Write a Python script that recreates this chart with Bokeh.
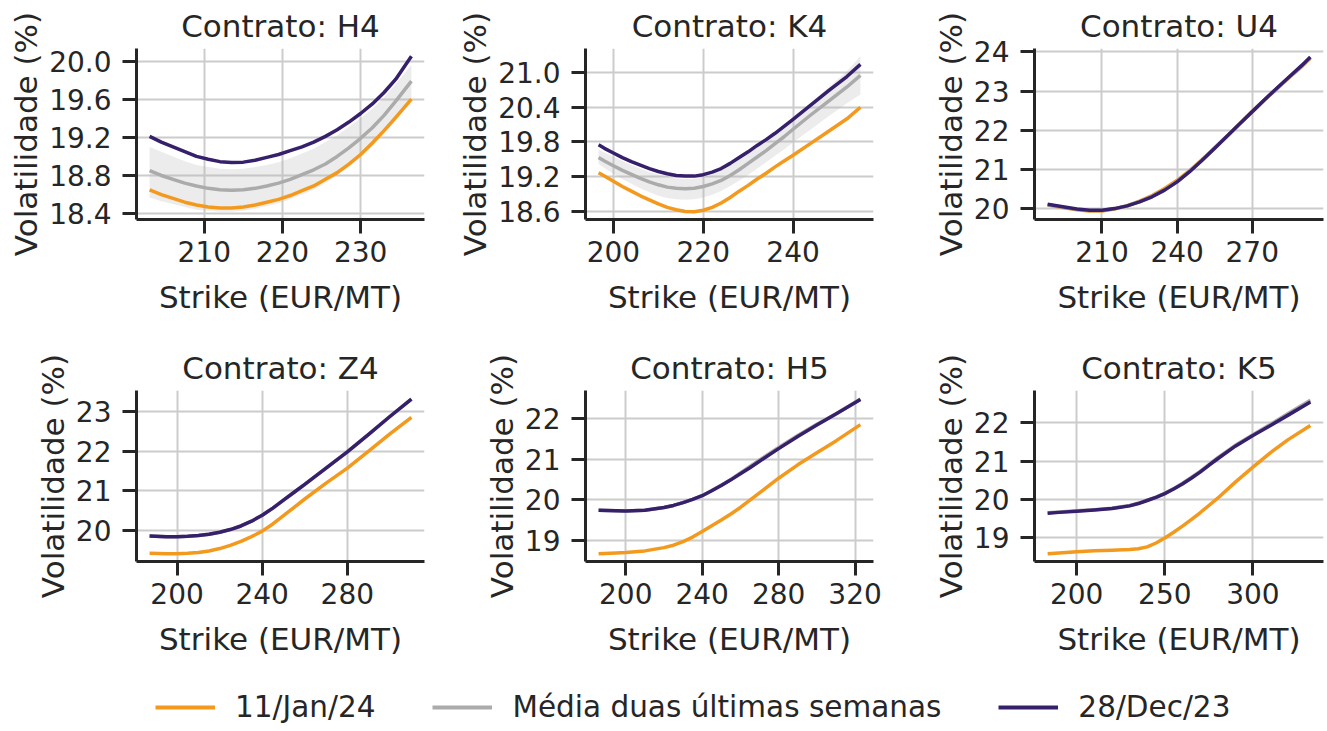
import numpy as np
from bokeh.plotting import figure
from bokeh.layouts import column, row
from bokeh.models import Range1d, FixedTicker, PrintfTickFormatter, Legend, LegendItem
from bokeh.embed import file_html
from bokeh.resources import INLINE

FONT = "DejaVu Sans"
TXT = "#262626"
C_JAN = "#F39A1E"
C_AVG = "#ABABAB"
C_DEC = "#37206B"
C_BAND = "#B4B4B4"

series_labels = ["11/Jan/24", "Média duas últimas semanas", "28/Dec/23"]
x_label = "Strike (EUR/MT)"
y_label = "Volatilidade (%)"

# ---------------- H4 ----------------
h4_strike = [203, 204.5, 206, 207.5, 209, 210.5, 212, 213.5, 215, 216.5, 218, 219.5, 221, 222.5, 224, 225.5,
             227, 228.5, 230, 231.5, 233, 234.5, 236.5]
h4_jan = [18.65, 18.60, 18.56, 18.52, 18.49, 18.47, 18.46, 18.46, 18.47, 18.49, 18.52, 18.55, 18.59, 18.64,
          18.69, 18.76, 18.83, 18.92, 19.02, 19.14, 19.27, 19.41, 19.60]
h4_avg = [18.85, 18.80, 18.76, 18.72, 18.69, 18.665, 18.65, 18.645, 18.65, 18.665, 18.69, 18.72, 18.76, 18.81,
          18.86, 18.92, 19.00, 19.09, 19.19, 19.30, 19.43, 19.58, 19.79]
h4_dec = [19.21, 19.15, 19.10, 19.05, 19.00, 18.97, 18.945, 18.935, 18.94, 18.96, 18.99, 19.02, 19.06, 19.10,
          19.15, 19.21, 19.28, 19.36, 19.45, 19.55, 19.67, 19.81, 20.05]
h4_lo = [18.57, 18.53, 18.50, 18.47, 18.44, 18.43, 18.42, 18.42, 18.43, 18.45, 18.48, 18.51, 18.55, 18.60,
         18.65, 18.72, 18.80, 18.89, 18.99, 19.11, 19.24, 19.38, 19.58]
h4_hi = [19.10, 19.05, 19.00, 18.95, 18.91, 18.89, 18.87, 18.865, 18.87, 18.89, 18.91, 18.94, 18.98, 19.03,
         19.08, 19.15, 19.22, 19.31, 19.40, 19.50, 19.62, 19.76, 19.96]
h4_xticks = [210, 220, 230]
h4_yticks = [18.4, 18.8, 19.2, 19.6, 20.0]

# ---------------- K4 ----------------
k4_strike = [196.7, 198, 200, 202, 204, 206, 208, 210, 212, 214, 216, 218, 220, 222, 224, 226, 228, 230,
             232, 234, 236, 238, 240, 244, 248, 252, 255]
k4_jan = [19.27, 19.21, 19.12, 19.03, 18.95, 18.87, 18.80, 18.73, 18.67, 18.63, 18.60, 18.595, 18.62, 18.67,
          18.745, 18.84, 18.95, 19.05, 19.16, 19.26, 19.37, 19.47, 19.57, 19.78, 19.99, 20.20, 20.40]
k4_avg = [19.53, 19.47, 19.39, 19.31, 19.24, 19.17, 19.11, 19.06, 19.02, 19.00, 18.99, 19.00, 19.03, 19.075,
          19.135, 19.22, 19.32, 19.43, 19.54, 19.65, 19.77, 19.89, 20.02, 20.27, 20.51, 20.75, 20.95]
k4_dec = [19.75, 19.69, 19.61, 19.53, 19.46, 19.40, 19.34, 19.29, 19.25, 19.22, 19.21, 19.21, 19.235, 19.28,
          19.34, 19.43, 19.53, 19.63, 19.74, 19.84, 19.95, 20.07, 20.19, 20.44, 20.69, 20.93, 21.14]
k4_lo = [19.42, 19.35, 19.25, 19.16, 19.08, 19.00, 18.93, 18.87, 18.83, 18.81, 18.80, 18.81, 18.84, 18.89,
         18.955, 19.04, 19.13, 19.23, 19.34, 19.45, 19.56, 19.67, 19.79, 20.02, 20.25, 20.47, 20.62]
k4_hi = [19.67, 19.62, 19.55, 19.47, 19.40, 19.34, 19.28, 19.24, 19.20, 19.17, 19.16, 19.165, 19.19, 19.24,
         19.30, 19.40, 19.50, 19.61, 19.72, 19.84, 19.96, 20.09, 20.22, 20.48, 20.75, 21.02, 21.28]
k4_xticks = [200, 220, 240]
k4_yticks = [18.6, 19.2, 19.8, 20.4, 21.0]

# ---------------- U4 ----------------
u4_strike = [188.3, 195, 200, 205, 210, 215, 220, 225, 230, 235, 240, 245, 250, 255, 260, 265, 270, 275, 280,
             285, 290, 293.2]
u4_jan = [20.10, 20.03, 19.98, 19.95, 19.95, 20.00, 20.08, 20.20, 20.34, 20.52, 20.73, 20.98, 21.26, 21.56,
          21.86, 22.17, 22.48, 22.78, 23.07, 23.36, 23.64, 23.84]
u4_avg = [20.11, 20.04, 19.99, 19.96, 19.96, 20.01, 20.08, 20.19, 20.32, 20.49, 20.70, 20.96, 21.25, 21.55,
          21.86, 22.17, 22.48, 22.79, 23.08, 23.37, 23.66, 23.86]
u4_dec = [20.12, 20.05, 20.00, 19.97, 19.97, 20.01, 20.08, 20.18, 20.31, 20.48, 20.69, 20.95, 21.24, 21.55,
          21.86, 22.17, 22.48, 22.79, 23.09, 23.38, 23.67, 23.87]
u4_lo = [20.08, 20.01, 19.96, 19.93, 19.93, 19.98, 20.05, 20.16, 20.29, 20.46, 20.67, 20.93, 21.22, 21.52,
         21.83, 22.14, 22.45, 22.76, 23.05, 23.34, 23.63, 23.83]
u4_hi = [20.14, 20.07, 20.02, 19.99, 19.99, 20.04, 20.11, 20.22, 20.35, 20.52, 20.73, 20.99, 21.28, 21.58,
         21.89, 22.20, 22.51, 22.82, 23.11, 23.40, 23.69, 23.89]
u4_xticks = [210, 240, 270]
u4_yticks = [20, 21, 22, 23, 24]

# ---------------- Z4 ----------------
z4_strike = [187.1, 195, 200, 205, 210, 215, 220, 225, 230, 235, 240, 245, 250, 255, 260, 270, 280, 290, 300,
             310.1]
z4_jan = [19.42, 19.41, 19.41, 19.42, 19.44, 19.48, 19.54, 19.62, 19.72, 19.84, 19.98, 20.16, 20.37, 20.58,
          20.79, 21.19, 21.57, 22.00, 22.43, 22.85]
z4_avg = [19.86, 19.84, 19.84, 19.85, 19.87, 19.90, 19.95, 20.02, 20.11, 20.23, 20.38, 20.56, 20.76, 20.96,
          21.16, 21.57, 21.98, 22.42, 22.87, 23.31]
z4_dec = [19.86, 19.84, 19.84, 19.85, 19.87, 19.90, 19.95, 20.02, 20.11, 20.23, 20.38, 20.56, 20.76, 20.96,
          21.16, 21.57, 21.98, 22.42, 22.87, 23.31]
z4_lo = [19.84, 19.82, 19.82, 19.83, 19.85, 19.88, 19.93, 20.00, 20.09, 20.21, 20.36, 20.54, 20.74, 20.94,
         21.14, 21.55, 21.96, 22.40, 22.85, 23.29]
z4_hi = [19.88, 19.86, 19.86, 19.87, 19.89, 19.92, 19.97, 20.04, 20.13, 20.25, 20.40, 20.58, 20.78, 20.98,
         21.18, 21.59, 22.00, 22.44, 22.89, 23.33]
z4_xticks = [200, 240, 280]
z4_yticks = [20, 21, 22, 23]

# ---------------- H5 ----------------
h5_strike = [185.8, 195, 200, 210, 220, 225, 230, 235, 240, 245, 250, 255, 260, 265, 270, 280, 290, 300, 310,
             322.8]
h5_jan = [18.67, 18.69, 18.70, 18.74, 18.82, 18.88, 18.97, 19.08, 19.22, 19.36, 19.50, 19.65, 19.81, 19.99,
          20.17, 20.53, 20.86, 21.16, 21.45, 21.85]
h5_avg = [19.74, 19.73, 19.72, 19.74, 19.81, 19.86, 19.93, 20.01, 20.10, 20.23, 20.36, 20.50, 20.66, 20.82,
          20.98, 21.29, 21.58, 21.86, 22.12, 22.48]
h5_dec = [19.74, 19.73, 19.72, 19.74, 19.81, 19.86, 19.93, 20.01, 20.10, 20.22, 20.35, 20.49, 20.64, 20.79,
          20.95, 21.26, 21.56, 21.84, 22.11, 22.47]
h5_lo = [19.73, 19.72, 19.71, 19.73, 19.80, 19.85, 19.92, 20.00, 20.09, 20.21, 20.34, 20.48, 20.63, 20.78,
         20.94, 21.25, 21.55, 21.83, 22.10, 22.45]
h5_hi = [19.75, 19.74, 19.73, 19.75, 19.82, 19.87, 19.94, 20.02, 20.11, 20.25, 20.38, 20.53, 20.68, 20.85,
         21.01, 21.32, 21.60, 21.88, 22.14, 22.50]
h5_xticks = [200, 240, 280, 320]
h5_yticks = [19, 20, 21, 22]

# ---------------- K5 ----------------
k5_strike = [183.5, 190, 200, 210, 220, 230, 235, 240, 245, 250, 255, 260, 265, 270, 275, 280, 290, 300, 310,
             320, 332.6]
k5_jan = [18.58, 18.60, 18.63, 18.66, 18.67, 18.69, 18.71, 18.76, 18.86, 18.99, 19.14, 19.30, 19.47, 19.65,
          19.84, 20.03, 20.45, 20.84, 21.22, 21.56, 21.93]
k5_avg = [19.65, 19.67, 19.70, 19.73, 19.77, 19.84, 19.90, 19.98, 20.06, 20.16, 20.28, 20.42, 20.57, 20.73,
          20.91, 21.09, 21.41, 21.69, 21.96, 22.24, 22.59]
k5_dec = [19.64, 19.66, 19.69, 19.72, 19.76, 19.83, 19.89, 19.97, 20.05, 20.15, 20.27, 20.40, 20.55, 20.71,
          20.89, 21.06, 21.39, 21.67, 21.93, 22.20, 22.54]
k5_lo = [19.63, 19.65, 19.68, 19.71, 19.75, 19.82, 19.88, 19.96, 20.04, 20.14, 20.26, 20.39, 20.54, 20.70,
         20.88, 21.05, 21.38, 21.66, 21.92, 22.19, 22.52]
k5_hi = [19.66, 19.68, 19.71, 19.74, 19.78, 19.85, 19.91, 19.99, 20.07, 20.17, 20.30, 20.44, 20.60, 20.77,
         20.95, 21.12, 21.44, 21.72, 22.00, 22.29, 22.64]
k5_xticks = [200, 250, 300]
k5_yticks = [19, 20, 21, 22]


def style_axis(ax, label_standoff, axis_label_standoff):
    ax.axis_line_color = TXT
    ax.axis_line_width = 3
    ax.major_tick_line_color = TXT
    ax.major_tick_line_width = 3
    ax.major_tick_out = 14
    ax.major_tick_in = 0
    ax.minor_tick_line_color = None
    ax.major_label_text_font = FONT
    ax.major_label_text_font_size = "28px"
    ax.major_label_text_color = TXT
    ax.major_label_standoff = label_standoff
    ax.axis_label_text_font = FONT
    ax.axis_label_text_font_size = "31px"
    ax.axis_label_text_font_style = "normal"
    ax.axis_label_text_color = TXT
    ax.axis_label_standoff = axis_label_standoff


def panel(name, xs, jan, avg, dec, lo, hi, xticks, yticks, yfmt,
          width, height, bl, br, bt, bb):
    xs = np.array(xs, dtype=float)
    allv = np.concatenate([jan, avg, dec, lo, hi])
    xpad = (xs.max() - xs.min()) * 0.05
    ypad = (allv.max() - allv.min()) * 0.05
    p = figure(width=width, height=height,
               min_border_left=bl, min_border_right=br,
               min_border_top=bt, min_border_bottom=bb,
               x_range=Range1d(xs.min() - xpad, xs.max() + xpad),
               y_range=Range1d(allv.min() - ypad, allv.max() + ypad),
               output_backend="svg", toolbar_location=None,
               title="Contrato: " + name)
    p.title.text_font = FONT
    p.title.text_font_size = "31px"
    p.title.text_font_style = "normal"
    p.title.text_color = TXT
    p.title.align = "center"
    p.title.standoff = 9
    p.outline_line_color = None
    p.background_fill_color = "white"
    p.border_fill_color = "white"
    p.grid.grid_line_color = "#CCCCCC"
    p.grid.grid_line_width = 2
    p.xaxis.ticker = FixedTicker(ticks=xticks)
    p.yaxis.ticker = FixedTicker(ticks=yticks)
    p.yaxis.formatter = PrintfTickFormatter(format=yfmt)
    p.xaxis.axis_label = x_label
    p.yaxis.axis_label = y_label
    style_axis(p.xaxis[0], 7, 14)
    style_axis(p.yaxis[0], 11, 2)

    p.varea(x=xs, y1=lo, y2=hi, fill_color=C_BAND, fill_alpha=0.25)
    p.line(xs, jan, line_color=C_JAN, line_width=3.5, line_join="round")
    p.line(xs, avg, line_color=C_AVG, line_width=3.5, line_join="round")
    p.line(xs, dec, line_color=C_DEC, line_width=3.5, line_join="round")
    return p


H1, H2, HL = 330, 338, 62
p1 = panel("H4", h4_strike, h4_jan, h4_avg, h4_dec, h4_lo, h4_hi, h4_xticks, h4_yticks, "%.1f",
           440, H1, 136, 16, 48, 111)
p2 = panel("K4", k4_strike, k4_jan, k4_avg, k4_dec, k4_lo, k4_hi, k4_xticks, k4_yticks, "%.1f",
           450, H1, 145, 17, 48, 111)
p3 = panel("U4", u4_strike, u4_jan, u4_avg, u4_dec, u4_lo, u4_hi, u4_xticks, u4_yticks, "%d",
           437, H1, 144, 4, 48, 111)
p4 = panel("Z4", z4_strike, z4_jan, z4_avg, z4_dec, z4_lo, z4_hi, z4_xticks, z4_yticks, "%d",
           440, H2, 136, 16, 60, 107)
p5 = panel("H5", h5_strike, h5_jan, h5_avg, h5_dec, h5_lo, h5_hi, h5_xticks, h5_yticks, "%d",
           450, H2, 145, 17, 60, 107)
p6 = panel("K5", k5_strike, k5_jan, k5_avg, k5_dec, k5_lo, k5_hi, k5_xticks, k5_yticks, "%d",
           437, H2, 144, 4, 60, 107)

# legend strip (renderers hold off-screen points so only their legend glyphs show)
pl = figure(width=1327, height=HL, min_border=0, x_axis_type=None, y_axis_type=None,
            x_range=Range1d(0, 1), y_range=Range1d(0, 1),
            output_backend="svg", toolbar_location=None)
pl.outline_line_color = None
pl.grid.visible = False
rj = pl.line(x=[5, 6], y=[5, 6], line_color=C_JAN, line_width=4)
ra = pl.line(x=[5, 6], y=[5, 6], line_color=C_AVG, line_width=4)
rd = pl.line(x=[5, 6], y=[5, 6], line_color=C_DEC, line_width=4)
leg = Legend(items=[LegendItem(label=series_labels[0], renderers=[rj]),
                    LegendItem(label=series_labels[1], renderers=[ra]),
                    LegendItem(label=series_labels[2], renderers=[rd])],
             orientation="horizontal", location=(155, 6),
             glyph_width=60, glyph_height=32, label_height=32, label_standoff=20,
             spacing=57, padding=0, margin=0,
             border_line_alpha=0, background_fill_alpha=0,
             label_text_font=FONT, label_text_font_size="29.5px", label_text_color=TXT)
pl.add_layout(leg)

layout = column(row(p1, p2, p3), row(p4, p5, p6), pl)
open("out.html", "w").write(file_html(layout, INLINE))
